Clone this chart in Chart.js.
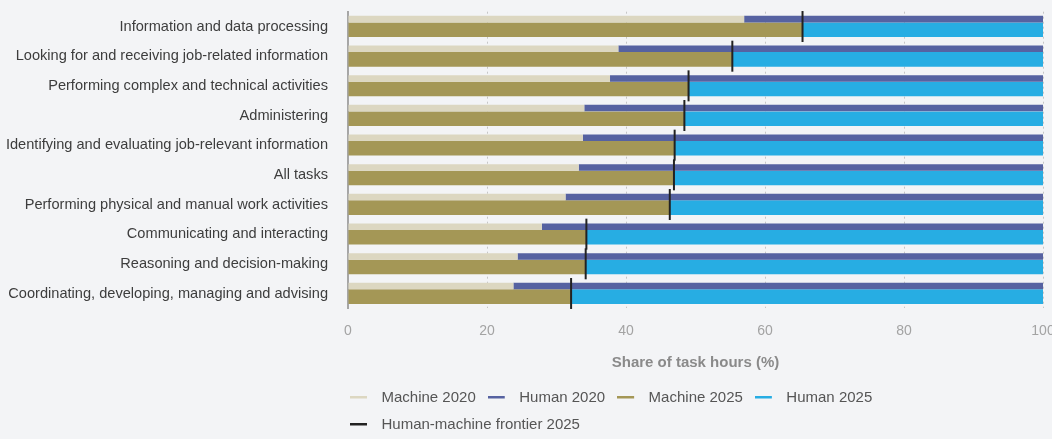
<!DOCTYPE html>
<html>
<head>
<meta charset="utf-8">
<script src="https://cdn.jsdelivr.net/npm/chart.js@4.4.1/dist/chart.umd.min.js"></script>
<style>
  html, body { margin: 0; padding: 0; background: #f3f4f6; }
  #wrap { width: 1052px; height: 439px; position: relative; }
  canvas { display: block; }
</style>
</head>
<body>
<div id="wrap"><canvas id="chart" width="1052" height="439"></canvas></div>
<script>
const categories = [
  'Information and data processing',
  'Looking for and receiving job-related information',
  'Performing complex and technical activities',
  'Administering',
  'Identifying and evaluating job-relevant information',
  'All tasks',
  'Performing physical and manual work activities',
  'Communicating and interacting',
  'Reasoning and decision-making',
  'Coordinating, developing, managing and advising'
];
const machine2020 = [57.0, 38.9, 37.7, 34.0, 33.8, 33.2, 31.3, 27.9, 24.4, 23.8];
const human2020   = [43.0, 61.1, 62.3, 66.0, 66.2, 66.8, 68.7, 72.1, 75.6, 76.2];
const machine2025 = [65.4, 55.3, 49.0, 48.4, 47.0, 46.9, 46.3, 34.3, 34.2, 32.1];
const human2025   = [34.6, 44.7, 51.0, 51.6, 53.0, 53.1, 53.7, 65.7, 65.8, 67.9];
const frontier2025 = [65.4, 55.3, 49.0, 48.4, 47.0, 46.9, 46.3, 34.3, 34.2, 32.1];
const xTickValues = [0, 20, 40, 60, 80, 100];
const seriesNames = ['Machine 2020', 'Human 2020', 'Machine 2025', 'Human 2025', 'Human-machine frontier 2025'];
const axisTitle = 'Share of task hours (%)';

const COLORS = ['#dcd7c1', '#5662a1', '#a49756', '#27ade3', '#222222'];
const FONT = '"Liberation Sans", Arial, Helvetica, sans-serif';

function makeMarker(color) {
  const c = document.createElement('canvas');
  c.width = 24; c.height = 4;
  const g = c.getContext('2d');
  g.fillStyle = color;
  g.fillRect(0, 0, 17, 3);
  return c;
}
const markers = COLORS.map(makeMarker);

const legendShift = {
  id: 'legendShift',
  afterLayout(chart) { if (chart.legend) chart.legend.left -= 10; }
};

const barCommon = { borderWidth: 0 };
const ds2020 = { categoryPercentage: 1, barPercentage: 0.44, stack: '2020' };
const ds2025 = { categoryPercentage: 0.427, barPercentage: 2.3, stack: '2025' };

new Chart(document.getElementById('chart'), {
  type: 'bar',
  data: {
    labels: categories,
    datasets: [
      Object.assign({ label: seriesNames[0], data: machine2020, backgroundColor: COLORS[0] }, barCommon, ds2020),
      Object.assign({ label: seriesNames[1], data: human2020, backgroundColor: COLORS[1] }, barCommon, ds2020),
      Object.assign({ label: seriesNames[2], data: machine2025, backgroundColor: COLORS[2] }, barCommon, ds2025),
      Object.assign({ label: seriesNames[3], data: human2025, backgroundColor: COLORS[3] }, barCommon, ds2025),
      {
        type: 'scatter',
        label: seriesNames[4],
        data: categories.map((c, i) => ({ x: frontier2025[i], y: c })),
        pointStyle: 'line',
        pointRotation: 90,
        pointRadius: 15.5,
        pointHoverRadius: 15.5,
        pointBorderWidth: 2,
        pointBorderColor: COLORS[4],
        borderColor: COLORS[4],
        backgroundColor: COLORS[4],
        showLine: false,
        clip: false,
        order: -1
      }
    ]
  },
  options: {
    indexAxis: 'y',
    responsive: false,
    animation: false,
    devicePixelRatio: 1,
    events: [],
    layout: { autoPadding: false, padding: { top: 11.7, right: 9, bottom: 0, left: 0 } },
    font: { family: FONT },
    scales: {
      x: {
        stacked: true,
        min: 0, max: 100,
        afterBuildTicks(scale) { scale.ticks = xTickValues.map(v => ({ value: v })); },
        ticks: { color: '#a3a3a3', font: { family: FONT, size: 14 }, padding: 14.3 },
        grid: { color: '#c6c6c6', lineWidth: 1, drawTicks: false },
        border: { display: false, dash: [2, 3] },
        title: {
          display: true, text: axisTitle, color: '#8a8a8a',
          font: { family: FONT, size: 15, weight: 'bold' },
          padding: { top: 4, bottom: 6 }
        },
        afterFit(scale) { scale.paddingRight = 0; scale.paddingLeft = 0; scale.height = 69.7; }
      },
      y: {
        stacked: true,
        grid: { display: false, drawTicks: false },
        border: { display: true, color: '#a6a6a6', width: 2 },
        ticks: { color: '#3d3d3d', font: { family: FONT, size: 14.6 }, padding: 20, autoSkip: false },
        afterFit(scale) { scale.width = 348; scale.paddingTop = 0; scale.paddingBottom = 0; }
      }
    },
    plugins: {
      tooltip: { enabled: false },
      legend: {
        position: 'bottom',
        align: 'start',
        fullSize: false,
        maxHeight: 61,
        labels: {
          usePointStyle: true,
          pointStyleWidth: 24,
          color: '#555555',
          font: { family: FONT, size: 15 },
          padding: 12,
          generateLabels(chart) {
            return chart.data.datasets.map((ds, i) => ({
              text: ds.label,
              pointStyle: markers[i],
              fillStyle: COLORS[i],
              strokeStyle: COLORS[i],
              lineWidth: 0,
              hidden: false,
              datasetIndex: i,
              fontColor: '#555555'
            }));
          }
        }
      }
    }
  },
  plugins: [legendShift]
});
</script>
</body>
</html>
